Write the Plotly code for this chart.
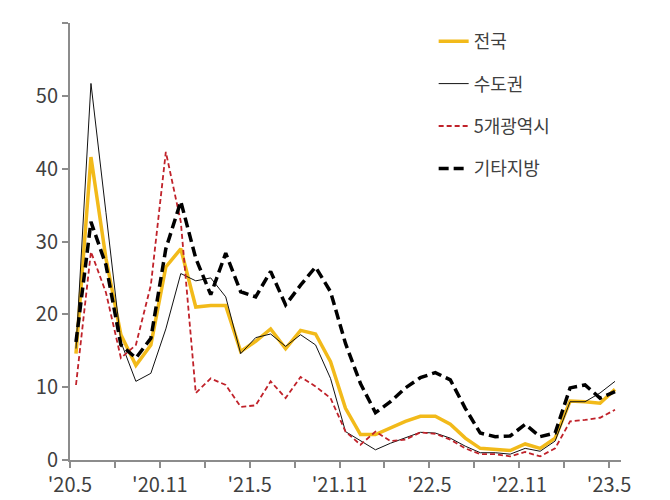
import plotly.graph_objects as go

# monthly, '20.5 .. '23.5
months = list(range(37))
tick_labels = ["'20.5", "'20.11", "'21.5", "'21.11", "'22.5", "'22.11", "'23.5"]

national = [14.6, 41.6, 27.7, 17.2, 13.0, 15.8, 26.5, 29.0, 21.0, 21.2, 21.2, 14.9, 16.3, 18.0,
            15.3, 17.8, 17.3, 13.5, 7.1, 3.5, 3.5, 4.4, 5.3, 6.0, 6.0, 4.9, 3.0, 1.6, 1.4, 1.3,
            2.2, 1.6, 3.0, 8.1, 8.0, 7.8, 9.7]
capital = [15.3, 51.7, 34.0, 16.2, 10.8, 11.9, 18.0, 25.6, 24.6, 25.0, 22.4, 14.6, 16.8, 17.3,
           15.6, 17.2, 15.8, 11.2, 3.9, 2.6, 1.4, 2.3, 3.0, 3.8, 3.7, 3.0, 1.9, 1.0, 1.0, 0.8,
           1.6, 1.2, 2.6, 8.0, 8.0, 9.2, 10.8]
metro5 = [10.3, 28.6, 23.0, 14.0, 15.8, 24.0, 42.3, 32.7, 9.2, 11.2, 10.3, 7.3, 7.5, 10.8,
          8.5, 11.4, 10.1, 8.5, 3.9, 2.1, 3.9, 2.6, 2.8, 3.8, 3.6, 2.8, 1.6, 0.8, 0.8, 0.5,
          1.1, 0.5, 1.6, 5.3, 5.5, 5.8, 6.9]
other = [16.2, 32.7, 26.8, 15.8, 14.0, 16.7, 29.0, 35.5, 27.7, 22.7, 28.4, 23.1, 22.4, 25.9,
         21.3, 24.0, 26.5, 23.1, 16.0, 10.5, 6.5, 8.0, 9.9, 11.3, 12.0, 11.0, 7.1, 3.7, 3.2, 3.3,
         4.9, 3.2, 3.7, 9.9, 10.3, 8.5, 9.4]

fig = go.Figure()
series = [
    ("전국", national, dict(color="#F2BA1A", width=3.5)),
    ("수도권", capital, dict(color="#111111", width=1)),
    ("5개광역시", metro5, dict(color="#C0222A", width=1.8, dash="5px,3px")),
    ("기타지방", other, dict(color="#000000", width=3.5, dash="10px,5px")),
]
for name, ys, line in series:
    fig.add_trace(go.Scatter(x=months, y=ys, name=name, mode="lines", line=line,
                             legendgroup=name))

axis_col = "#8C8C8C"
fig.update_xaxes(
    range=[-0.4, 36.4],
    tickvals=[v - 0.4 for v in range(0, 37, 3)],
    ticktext=[tick_labels[i // 2] if i % 2 == 0 else "" for i in range(13)],
    ticks="outside", ticklen=6, tickcolor=axis_col, tickwidth=2,
    showline=True, linecolor=axis_col, linewidth=2, showgrid=False, zeroline=False,
    automargin=False,
)
fig.update_yaxes(
    range=[0, 60], dtick=10,
    ticks="outside", ticklen=6, tickcolor=axis_col, tickwidth=2,
    showline=True, linecolor=axis_col, linewidth=2, showgrid=False, zeroline=False,
    automargin=False,
)
fig.update_layout(
    width=670, height=500,
    margin=dict(l=62, r=57, t=15, b=48),
    plot_bgcolor="white", paper_bgcolor="white",
    font=dict(family="Noto Sans CJK KR", size=20, color="#404040"),
    showlegend=True,
    legend=dict(x=0.66, y=1.0, xanchor="left", yanchor="top",
                font=dict(size=18, color="#404040"), tracegroupgap=16,
                bgcolor="rgba(0,0,0,0)"),
)

fig.write_html("out.html")
